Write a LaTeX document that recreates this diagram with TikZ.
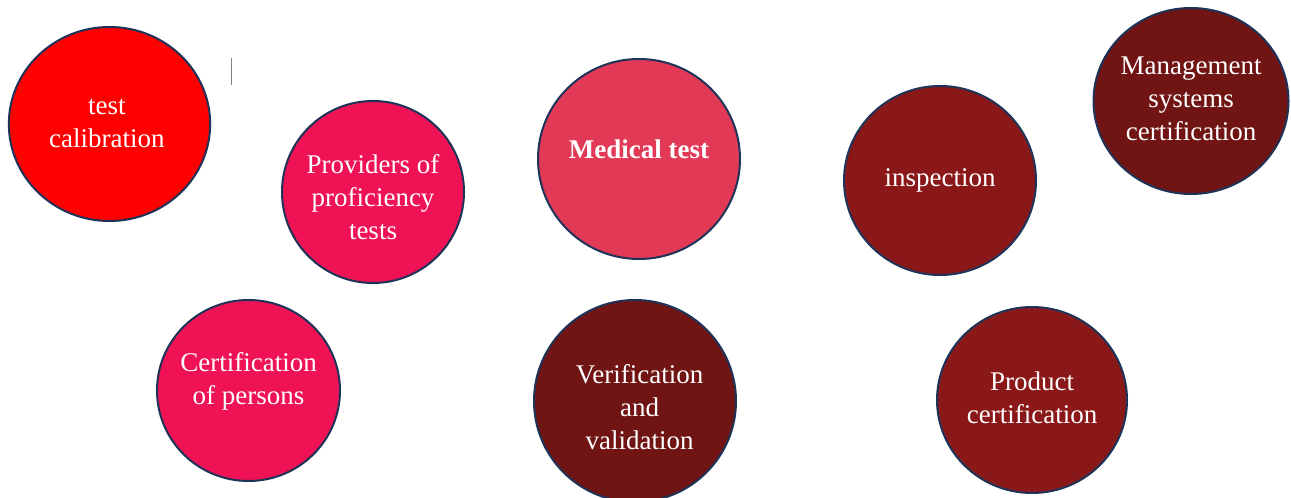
\documentclass[tikz,border=0pt]{standalone}
\usepackage{fontspec}
\setmainfont{Liberation Serif}
\usetikzlibrary{shapes.geometric}

\definecolor{calibred}{HTML}{FE0000}
\definecolor{pinkred}{HTML}{EF1356}
\definecolor{medred}{HTML}{E23A56}
\definecolor{darkred}{HTML}{8B1818}
\definecolor{deepred}{HTML}{701414}
\definecolor{rimblue}{HTML}{1F3358}

\begin{document}
\begin{tikzpicture}[x=0.75pt,y=-0.75pt,
    bubble/.style={ellipse,draw=rimblue,line width=1.5pt,inner sep=0pt},
    bubble text/.style={text=white,align=center,
      font=\fontsize{20.25}{24.75}\selectfont}]
  \useasboundingbox (0,0) rectangle (1291,498);
  % upper row
  \node[bubble,fill=calibred,minimum width=151pt,minimum height=145.5pt,
        label={[bubble text,yshift=0pt,xshift=-2pt]center:test\\calibration}] (calib) at (109.5,124) {};
  \node[bubble,fill=pinkred,minimum width=136.5pt,minimum height=136.5pt,
        label={[bubble text,yshift=-4pt]center:Providers of\\proficiency\\tests}] (providers) at (373,192) {};
  \node[bubble,fill=medred,minimum width=151.5pt,minimum height=150pt,
        label={[bubble text,yshift=7pt,font=\fontsize{20.25}{24.75}\selectfont\bfseries]center:Medical test}] (medical) at (639,159) {};
  \node[bubble,fill=darkred,minimum width=144pt,minimum height=141.75pt,
        label={[bubble text,yshift=0pt]center:inspection}] (inspection) at (940,180.5) {};
  \node[bubble,fill=deepred,minimum width=146.25pt,minimum height=139.5pt,
        label={[bubble text,yshift=2pt]center:Management\\systems\\certification}] (management) at (1191,101) {};
  % lower row
  \node[bubble,fill=pinkred,minimum width=137.25pt,minimum height=135.75pt,
        label={[bubble text,yshift=6.5pt]center:Certification\\of persons}] (persons) at (248.5,390.5) {};
  \node[bubble,fill=deepred,minimum width=151.5pt,minimum height=151.5pt,
        label={[bubble text,yshift=-4.5pt,xshift=3.5pt]center:Verification\\and\\validation}] (verification) at (635,401) {};
  \node[bubble,fill=darkred,minimum width=142.5pt,minimum height=139.5pt,
        label={[bubble text,yshift=2pt]center:Product\\certification}] (product) at (1032,400) {};
  % stray cursor mark
  \draw[gray,line width=0.75pt] (231,58) -- (231,85);
\end{tikzpicture}
\end{document}
